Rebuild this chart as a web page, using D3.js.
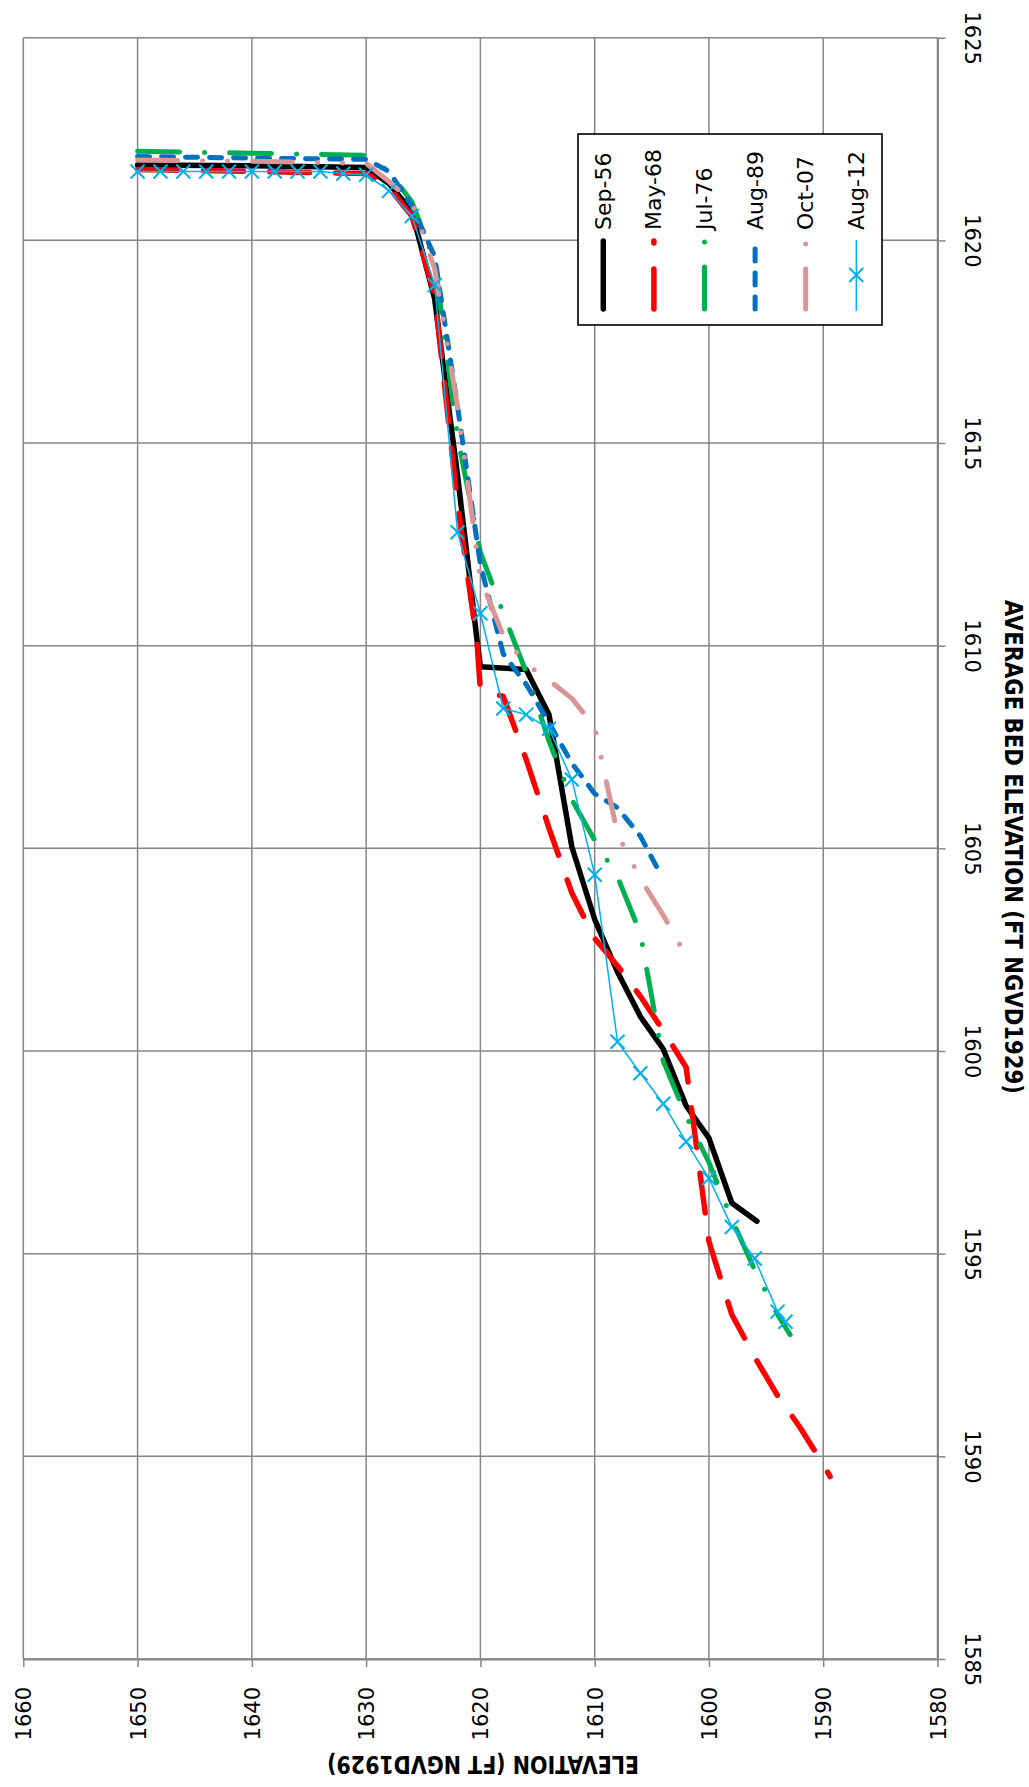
<!DOCTYPE html>
<html><head><meta charset="utf-8">
<script src="https://cdn.jsdelivr.net/npm/d3@7/dist/d3.min.js"></script>
<style>html,body{margin:0;padding:0;background:#fff}</style>
</head><body><div id="chart"></div>
<script>
// ---------- DATA ----------
const seriesNames = ["Sep-56","May-68","Jul-76","Aug-89","Oct-07","Aug-12"];

const sep56Elev = [1650,1640,1630,1628,1626,1624,1622,1620.3,1620,1616,1614,1612,1610,1608,1606,1604,1602,1600,1598,1595.8];
const sep56Bed  = [1621.86,1621.84,1621.8,1621.4,1620.72,1618.55,1614.2,1610.15,1609.48,1609.41,1608.3,1605.04,1603.25,1601.95,1600.85,1600.05,1598.65,1597.85,1596.25,1595.8];

const may68Elev = [1650,1630,1628,1626,1624,1622,1620.3,1620,1618,1616,1614,1612,1610,1608,1606,1604,1602,1600,1598,1596,1594,1592,1590,1589.4];
const may68Bed  = [1621.75,1621.65,1621.3,1620.6,1618.65,1613.5,1610.1,1608.9,1608.75,1607.2,1605.5,1603.9,1602.78,1602.1,1601.35,1600.5,1599.6,1595.3,1593.5,1592.45,1591.5,1590.7,1589.8,1589.5];

const jul76Elev = [1650,1640,1630,1628,1626,1624,1622,1620,1618,1616,1614,1612,1610,1608,1606,1604,1602,1600,1598,1596,1594,1592.9];
const jul76Bed  = [1622.2,1622.15,1622.1,1621.7,1620.95,1619.5,1615.15,1612.3,1610.8,1609.35,1607.65,1606.2,1605.2,1604.3,1602.9,1599.75,1598.4,1597.25,1595.85,1594.6,1593.5,1593.0];

const aug89Elev = [1650,1640,1630,1628,1626,1624,1622,1620,1618,1616,1614,1612,1610,1608,1606,1604.4];
const aug89Bed  = [1622.07,1622.03,1622.0,1621.7,1620.85,1619.6,1615.9,1612.0,1609.8,1609.05,1608.1,1607.1,1606.35,1606.0,1605.3,1604.45];

const oct07Elev = [1650,1640,1630,1628,1626,1624,1622,1620,1618,1616,1614,1612,1610,1608,1606,1604,1602.5];
const oct07Bed  = [1621.98,1621.95,1621.9,1621.45,1620.95,1619.3,1615.9,1611.65,1610.25,1609.55,1609.15,1608.7,1608.0,1605.35,1604.25,1603.35,1602.6];

const aug12Elev = [1650,1648,1646,1644,1642,1640,1638,1636,1634,1632,1630,1628,1626,1624,1622,1620,1618,1616,1614,1612,1610,1608,1606,1604,1602,1600,1598,1596,1594,1593.3];
const aug12Bed  = [1621.7,1621.7,1621.7,1621.7,1621.7,1621.7,1621.7,1621.7,1621.7,1621.65,1621.62,1621.22,1620.6,1618.9,1612.8,1610.8,1608.45,1608.3,1607.95,1606.7,1604.35,1600.23,1599.45,1598.7,1597.76,1596.86,1595.66,1594.88,1593.57,1593.32];

const elevTicks = [1660,1650,1640,1630,1620,1610,1600,1590,1580];
const bedTicks  = [1625,1620,1615,1610,1605,1600,1595,1590,1585];

const xTitle = "ELEVATION (FT NGVD1929)";
const yTitle = "AVERAGE BED ELEVATION (FT NGVD1929)";

// ---------- STYLES ----------
const styles = [
  {color:"#000000", width:5.5, dash:null},
  {color:"#FF0000", width:5.5, dash:"40,26"},
  {color:"#00B050", width:5,   dash:"42,25,0,25"},
  {color:"#0070C0", width:5,   dash:"12,12"},
  {color:"#D99694", width:5,   dash:"40,25,0,25,0,25"},
  {color:"#00B0F0", width:1.5, dash:null, marker:true}
];
const seriesData = [
  [sep56Elev, sep56Bed],[may68Elev, may68Bed],[jul76Elev, jul76Bed],
  [aug89Elev, aug89Bed],[oct07Elev, oct07Bed],[aug12Elev, aug12Bed]
];

const W = 1029, H = 1787;
const L = 23.3, R = 937.5, T = 37.7, B = 1659;
const x = d3.scaleLinear().domain([1660,1580]).range([L,R]);
const y = d3.scaleLinear().domain([1625,1585]).range([T,B]);

const svg = d3.select("#chart").append("svg").attr("width",W).attr("height",H)
  .style("background","#fff");
const gridColor = "#868686";
const tickFont = "'DejaVu Sans', sans-serif";

// gridlines
svg.append("g").selectAll("line").data(elevTicks).join("line")
  .attr("x1",d=>x(d)).attr("x2",d=>x(d)).attr("y1",T).attr("y2",B)
  .attr("stroke",gridColor).attr("stroke-width",1.5);
svg.append("g").selectAll("line").data(bedTicks).join("line")
  .attr("x1",L).attr("x2",R).attr("y1",d=>y(d)).attr("y2",d=>y(d))
  .attr("stroke",gridColor).attr("stroke-width",1.5);

// bottom axis
const ax = svg.append("g").attr("transform",`translate(0,${B})`)
  .call(d3.axisBottom(x).tickValues(elevTicks).tickSize(8).tickSizeOuter(0).tickFormat(d3.format("d")));
ax.select(".domain").attr("stroke",gridColor).attr("stroke-width",2);
ax.selectAll(".tick line").attr("stroke",gridColor).attr("stroke-width",1.5);
ax.selectAll(".tick text").attr("transform","rotate(-90)").attr("x",-28).attr("y",0).attr("dy","0.36em")
  .style("text-anchor","end").style("font-family",tickFont).style("font-size","21px").attr("fill","#000");

// right axis
const ay = svg.append("g").attr("transform",`translate(${R},0)`)
  .call(d3.axisRight(y).tickValues(bedTicks).tickSize(8).tickSizeOuter(0).tickFormat(d3.format("d")));
ay.select(".domain").attr("stroke",gridColor).attr("stroke-width",2);
ay.selectAll(".tick line").attr("stroke",gridColor).attr("stroke-width",1.5);
ay.selectAll(".tick text").attr("transform","rotate(90)").attr("x",0).attr("y",-27.5).attr("dy",0)
  .style("text-anchor","middle").style("font-family",tickFont).style("font-size","21px").attr("fill","#000");

// series
const line = d3.line().x(d=>x(d[0])).y(d=>y(d[1]));
seriesData.forEach((sd,i)=>{
  const pts = sd[0].map((e,k)=>[e, sd[1][k]]);
  const st = styles[i];
  svg.append("path").datum(pts).attr("d",line).attr("fill","none")
    .attr("stroke",st.color).attr("stroke-width",st.width)
    .attr("stroke-linecap","round").attr("stroke-linejoin","round")
    .attr("stroke-dasharray",st.dash);
  if(st.marker){
    const s = 7;
    svg.append("g").selectAll("path").data(pts).join("path")
      .attr("d",d=>{const cx=x(d[0]), cy=y(d[1]);
        return `M${cx-s},${cy-s}L${cx+s},${cy+s}M${cx-s},${cy+s}L${cx+s},${cy-s}`;})
      .attr("stroke",st.color).attr("stroke-width",2).attr("fill","none");
  }
});

// legend
const lg = svg.append("g");
lg.append("rect").attr("x",578).attr("y",134).attr("width",304).attr("height",191)
  .attr("fill","#fff").attr("stroke","#000").attr("stroke-width",1.6);
seriesNames.forEach((name,i)=>{
  const cx = 603.3 + i*50.6;
  const st = styles[i];
  if(st.marker){
    lg.append("line").attr("x1",cx).attr("x2",cx).attr("y1",311).attr("y2",240)
      .attr("stroke",st.color).attr("stroke-width",st.width);
    const s=7, cy=275;
    lg.append("path").attr("d",`M${cx-s},${cy-s}L${cx+s},${cy+s}M${cx-s},${cy+s}L${cx+s},${cy-s}`)
      .attr("stroke",st.color).attr("stroke-width",2);
  } else {
    lg.append("path").attr("d",`M${cx},309L${cx},241`).attr("fill","none")
      .attr("stroke",st.color).attr("stroke-width",st.width)
      .attr("stroke-linecap","round").attr("stroke-dasharray",st.dash);
  }
  lg.append("text").attr("transform",`translate(${cx+7.5},230) rotate(-90)`)
    .style("font-family","'DejaVu Sans', sans-serif").style("font-size","22px")
    .attr("text-anchor","start").text(name);
});

// axis titles
svg.append("text").attr("transform","translate(1005,847) rotate(90)")
  .attr("text-anchor","middle")
  .style("font-family","'Liberation Sans Narrow','DejaVu Sans Condensed',sans-serif")
  .style("font-weight","bold").style("font-size","25px")
  .attr("textLength",494).attr("lengthAdjust","spacingAndGlyphs")
  .text(yTitle);
svg.append("text").attr("transform","translate(483,1756) rotate(180)")
  .attr("text-anchor","middle")
  .style("font-family","'Liberation Sans Narrow','DejaVu Sans Condensed',sans-serif")
  .style("font-weight","bold").style("font-size","25px")
  .attr("textLength",312).attr("lengthAdjust","spacingAndGlyphs")
  .text(xTitle);
</script>
</body></html>
